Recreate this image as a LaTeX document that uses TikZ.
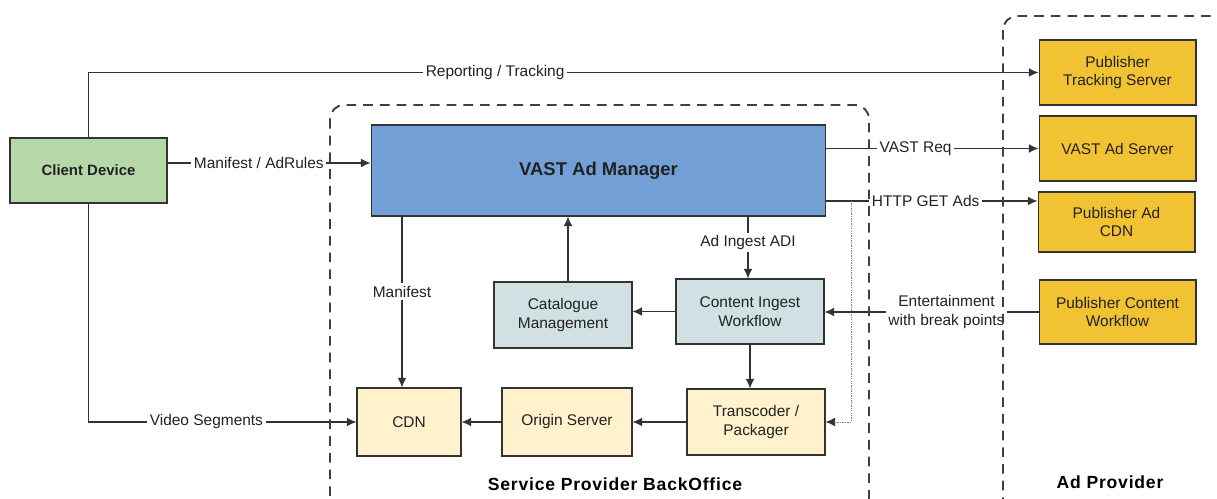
\documentclass[tikz,border=0pt]{standalone}
\usepackage{fontspec}
\setmainfont{Liberation Sans}
\usetikzlibrary{arrows.meta}

\begin{document}
\begin{tikzpicture}[x=0.02cm,y=-0.02cm,>={Latex[length=5.5pt,width=5pt]},
  box/.style={draw=linegray,line width=0.6pt,minimum width=2.76cm,minimum height=1.3cm,
    align=center,inner sep=1pt,text=textgray,font=\fontsize{8.8}{10.5}\selectfont},
  link/.style={->,draw=linegray,line width=0.6pt},
  lbl/.style={fill=white,inner sep=1.5pt,align=center,text=textgray,font=\fontsize{8.8}{10.5}\selectfont},
  zone/.style={draw=zonegray,line width=1.1pt,dash pattern=on 5.5pt off 4pt,rounded corners=8pt},
  zonetitle/.style={text=black,font=\bfseries\fontsize{10}{12}\selectfont\addfontfeatures{LetterSpace=4.5}}]
\definecolor{linegray}{HTML}{333333}
\definecolor{textgray}{HTML}{222222}
\definecolor{zonegray}{HTML}{404040}
\definecolor{clientgreen}{HTML}{B6D7A8}
\definecolor{vastblue}{HTML}{729FD6}
\definecolor{pubgold}{HTML}{F1C232}
\definecolor{ingestblue}{HTML}{D0E0E3}
\definecolor{cdncream}{HTML}{FFF2CC}
\clip (0,0) rectangle (1217,499);

% client side
\node[box,fill=clientgreen,minimum width=3.14cm,font=\bfseries\fontsize{8.5}{10}\selectfont] (client) at (88.5,170.5) {Client Device};

% service provider back office
\node[box,fill=vastblue,minimum width=9.1cm,minimum height=1.82cm,font=\bfseries\fontsize{10.5}{12}\selectfont] (vastmgr) at (598.5,170.5) {VAST Ad Manager};
\node[box,fill=ingestblue,minimum height=1.32cm] (catalogue) at (563,315) {Catalogue\\Management};
\node[box,fill=ingestblue,minimum width=2.96cm] (ingest) at (750,311.5) {Content Ingest\\Workflow};
\node[box,fill=cdncream,minimum height=1.32cm] (transcoder) at (756,422) {Transcoder /\\Packager};
\node[box,fill=cdncream,minimum width=2.6cm,minimum height=1.36cm] (origin) at (567,422) {Origin Server};
\node[box,fill=cdncream,minimum width=2.08cm,minimum height=1.36cm] (cdn) at (409,422) {CDN};

% ad provider
\node[box,fill=pubgold,minimum width=3.14cm] (tracking) at (1117.5,72.5) {Publisher\\Tracking Server};
\node[box,fill=pubgold,minimum width=3.14cm] (adserver) at (1117.5,148.5) {VAST Ad Server};
\node[box,fill=pubgold,minimum width=3.14cm,minimum height=1.2cm] (adcdn) at (1116.5,222) {Publisher Ad\\CDN};
\node[box,fill=pubgold,minimum width=3.14cm,minimum height=1.28cm] (pubflow) at (1117.5,312) {Publisher Content\\Workflow};

% connectors
\draw[link] (client.north) |- (tracking.west) node[lbl,pos=0.714] {Reporting / Tracking};
\draw[link] ([yshift=0.15cm]client.east) -- ([yshift=0.15cm]vastmgr.west) node[lbl,pos=0.45] {Manifest / AdRules};
\draw[link] (client.south) |- (cdn.west) node[lbl,pos=0.72] {Video Segments};
\draw[link] (vastmgr.east |- adserver) -- (adserver.west) node[lbl,pos=0.42] {VAST Req};
\draw[link] ([yshift=-0.61cm]vastmgr.east) coordinate (httpout) -- (httpout -| adcdn.west) node[lbl,pos=0.47] {HTTP GET Ads};
\draw[draw=gray,line width=0.5pt,dash pattern=on 0.8pt off 0.6pt,-{Latex[length=5.5pt,width=5pt,color=linegray]}]
  ([xshift=0.5cm]httpout) |- (transcoder.east);
\draw[link] ([xshift=-0.14cm]cdn.north |- vastmgr.south) -- ([xshift=-0.14cm]cdn.north) node[lbl,pos=0.44] {Manifest};
\draw[link] ([xshift=0.1cm]catalogue.north) -- ([xshift=0.1cm]catalogue.north |- vastmgr.south);
\draw[link] ([xshift=-0.04cm]ingest.north |- vastmgr.south) -- ([xshift=-0.04cm]ingest.north) node[lbl,pos=0.42] {Ad Ingest ADI};
\draw[link] (ingest.west) -- (ingest.west -| catalogue.east);
\draw[link] (pubflow.west) -- (pubflow.west -| ingest.east) node[lbl,pos=0.43] {Entertainment\\with break points};
\draw[link] (ingest.south) -- (ingest.south |- transcoder.north);
\draw[link] (transcoder.west) -- (transcoder.west -| origin.east);
\draw[link] (origin.west) -- (origin.west -| cdn.east);

% dashed zones on top
\draw[zone] (330,105) rectangle (869,530);
\draw[zone] (1003,16) rectangle (1260,530);
\node[zonetitle] (spbo) at (615,484) {Service Provider BackOffice};
\node[zonetitle] (adprov) at (1110,482) {Ad Provider};
\end{tikzpicture}
\end{document}
